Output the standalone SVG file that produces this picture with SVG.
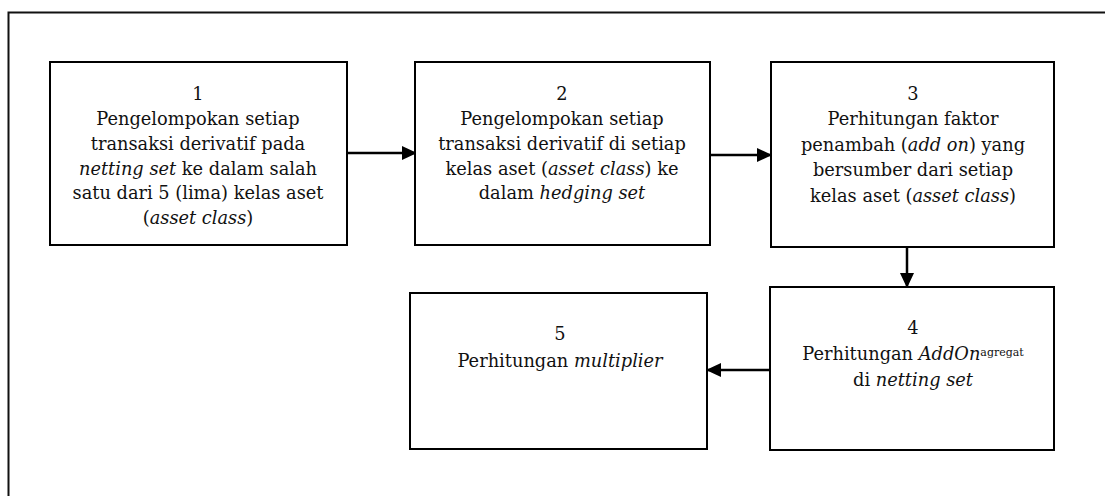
<svg xmlns="http://www.w3.org/2000/svg" width="1105" height="496" viewBox="0 0 1105 496">
<style>
.box{fill:#fff;stroke:#000;stroke-width:2}
.t{font-family:"DejaVu Serif","Liberation Serif",serif;font-size:17.8px;fill:#111;text-anchor:middle}
.i{font-style:italic}
.sup{font-size:11px}
.c{stroke:#000;stroke-width:2.5;fill:none}
</style>
<defs>
<marker id="ah" markerWidth="15" markerHeight="14" refX="14" refY="7" orient="auto" markerUnits="userSpaceOnUse" viewBox="0 0 15 14">
<path d="M0,0 L15,7 L0,14 z" fill="#000"/>
</marker>
</defs>
<rect x="8.5" y="12.5" width="1110" height="500" fill="none" stroke="#111" stroke-width="2"/>
<g id="connectors">
<line class="c" x1="348" y1="153" x2="416" y2="153" marker-end="url(#ah)"/>
<line class="c" x1="711" y1="155" x2="771" y2="155" marker-end="url(#ah)"/>
<line class="c" x1="907" y1="248" x2="907" y2="287" marker-end="url(#ah)"/>
<line class="c" x1="769" y1="370" x2="707" y2="370" marker-end="url(#ah)"/>
</g>
<g id="node1">
<rect class="box" x="50" y="62" width="297" height="183"/>
<text class="t" x="198" y="100">1</text>
<text class="t" x="198" y="125">Pengelompokan setiap</text>
<text class="t" x="198" y="150">transaksi derivatif pada</text>
<text class="t" x="198" y="175"><tspan class="i">netting set</tspan> ke dalam salah</text>
<text class="t" x="198" y="199">satu dari 5 (lima) kelas aset</text>
<text class="t" x="198" y="224">(<tspan class="i">asset class</tspan>)</text>
</g>
<g id="node2">
<rect class="box" x="415" y="62" width="295" height="183"/>
<text class="t" x="562" y="100">2</text>
<text class="t" x="562" y="125">Pengelompokan setiap</text>
<text class="t" x="562" y="150">transaksi derivatif di setiap</text>
<text class="t" x="562" y="175">kelas aset (<tspan class="i">asset class</tspan>) ke</text>
<text class="t" x="562" y="199">dalam <tspan class="i">hedging set</tspan></text>
</g>
<g id="node3">
<rect class="box" x="771" y="62" width="283" height="185"/>
<text class="t" x="913" y="100">3</text>
<text class="t" x="913" y="125">Perhitungan faktor</text>
<text class="t" x="913" y="151">penambah (<tspan class="i">add on</tspan>) yang</text>
<text class="t" x="913" y="176">bersumber dari setiap</text>
<text class="t" x="913" y="202">kelas aset (<tspan class="i">asset class</tspan>)</text>
</g>
<g id="node4">
<rect class="box" x="770" y="287" width="284" height="163"/>
<text class="t" x="913" y="334">4</text>
<text class="t" x="913" y="360">Perhitungan <tspan class="i">AddOn</tspan><tspan class="sup" dy="-4">agregat</tspan></text>
<text class="t" x="913" y="386">di <tspan class="i">netting set</tspan></text>
</g>
<g id="node5">
<rect class="box" x="410" y="293" width="297" height="156"/>
<text class="t" x="560" y="340">5</text>
<text class="t" x="560" y="367">Perhitungan <tspan class="i">multiplier</tspan></text>
</g>
</svg>
